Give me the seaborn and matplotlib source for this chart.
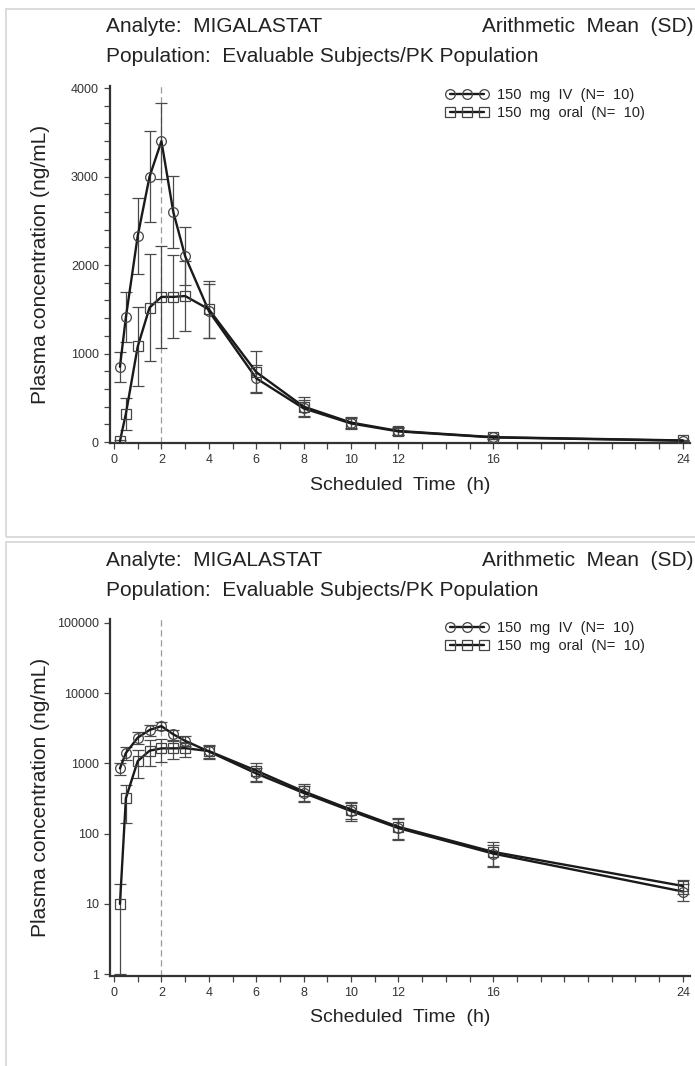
import numpy as np
import pandas as pd
import matplotlib
matplotlib.use('Agg')
import matplotlib.pyplot as plt
from matplotlib.patches import Rectangle
from matplotlib.ticker import MultipleLocator, NullLocator
import seaborn as sns

# scheduled sampling times (h)
times = [0.25, 0.5, 1, 1.5, 2, 2.5, 3, 4, 6, 8, 10, 12, 16, 24]
# arithmetic mean / SD (ng/mL)
iv_mean = [850, 1410, 2330, 3000, 3400, 2600, 2100, 1480, 720, 380, 210, 120, 52, 15]
iv_sd = [170, 280, 430, 510, 430, 410, 330, 310, 150, 100, 60, 40, 18, 4]
oral_mean = [10, 320, 1080, 1520, 1640, 1640, 1650, 1500, 790, 400, 220, 125, 55, 18]
oral_sd = [9, 180, 450, 610, 580, 470, 400, 320, 240, 110, 60, 40, 20, 4]

groups = ['IV', 'oral']
legend_labels = ['150  mg  IV  (N=  10)', '150  mg  oral  (N=  10)']
xtick_labeled = [0, 2, 4, 6, 8, 10, 12, 16, 24]
lin_yticks = [0, 1000, 2000, 3000, 4000]
log_yticks = [1, 10, 100, 1000, 10000, 100000]

df = pd.DataFrame({
    'time': times * 2,
    'conc': iv_mean + oral_mean,
    'group': ['IV'] * len(times) + ['oral'] * len(times),
})

sns.set_theme(style='ticks')
plt.rcParams['font.family'] = ['Liberation Sans', 'DejaVu Sans']

W, H = 695, 1066
fig = plt.figure(figsize=(W / 100, H / 100), dpi=100)
TXT = '#222222'


def px_axes(left, top, right, bottom):
    return fig.add_axes([left / W, 1 - bottom / H, (right - left) / W, (bottom - top) / H])


def fy(y):
    return 1 - y / H


def px_rect(left, top, right, bottom):
    fig.add_artist(Rectangle((left / W, fy(bottom)), (right - left) / W, (bottom - top) / H,
                             transform=fig.transFigure, fill=False, ec='#d6d6d6', lw=1.2))


def draw_panel(off, log):
    fig.text(106 / W, fy(27 + off), 'Analyte:  MIGALASTAT', fontsize=15, color=TXT, va='center')
    fig.text(694 / W, fy(27 + off), 'Arithmetic  Mean  (SD)', fontsize=15, color=TXT,
             va='center', ha='right')
    fig.text(106 / W, fy(57 + off), 'Population:  Evaluable Subjects/PK Population',
             fontsize=15, color=TXT, va='center')

    ax = px_axes(110, 86 + off, 690, 443 + off)
    ax.axvline(2, color='#9a9a9a', lw=0.9, ls=(0, (5, 3)), zorder=1)
    for m, s in [(iv_mean, iv_sd), (oral_mean, oral_sd)]:
        ax.errorbar(times, m, yerr=s, fmt='none', ecolor='#4a4a4a', elinewidth=0.9,
                    capsize=4, capthick=0.9, zorder=2)
    n0 = len(ax.lines)
    sns.lineplot(data=df, x='time', y='conc', style='group',
                 markers={'IV': 'o', 'oral': 's'}, dashes=False, color='#1a1a1a',
                 linewidth=1.7, markersize=7, markerfacecolor='none',
                 markeredgecolor='#444444', markeredgewidth=0.9,
                 estimator=None, legend=False, ax=ax, zorder=3)
    handles = ax.lines[n0:n0 + 2]

    ax.set_xlim(-0.17, 24.3)
    ax.set_xticks(range(25))
    ax.set_xticklabels([str(t) if t in xtick_labeled else '' for t in range(25)])
    if log:
        ax.set_yscale('log')
        ax.set_ylim(0.94, 1.14e5)
        ax.set_yticks(log_yticks)
        ax.set_yticklabels([str(v) for v in log_yticks])
        ax.yaxis.set_minor_locator(NullLocator())
    else:
        ax.set_ylim(-11, 4023)
        ax.set_yticks(lin_yticks)
        ax.set_yticklabels([str(v) for v in lin_yticks])
        ax.yaxis.set_minor_locator(MultipleLocator(200))
    ax.set_xlabel('')
    ax.set_ylabel('')
    ax.tick_params(axis='both', which='both', direction='out', length=4, width=0.9,
                   color='#444444', labelsize=9, labelcolor='#333333', pad=4)
    for side in ['top', 'right']:
        ax.spines[side].set_visible(False)
    for side in ['left', 'bottom']:
        ax.spines[side].set_linewidth(1.6)
        ax.spines[side].set_color('#333333')

    fig.text(41 / W, fy(264 + off), 'Plasma concentration (ng/mL)', fontsize=15,
             color=TXT, rotation=90, ha='center', va='center')
    fig.text(400 / W, fy(485 + off), 'Scheduled  Time  (h)', fontsize=14, color=TXT,
             ha='center', va='center')

    leg = ax.legend(handles=handles, labels=legend_labels, numpoints=3, frameon=False,
                    loc='upper left', bbox_to_anchor=(446 / W, fy(88 + off)),
                    bbox_transform=fig.transFigure, fontsize=10.5, handlelength=2.9,
                    handletextpad=0.6, labelspacing=0.3, borderpad=0, borderaxespad=0)
    for t in leg.get_texts():
        t.set_color(TXT)
    return ax


# panel frames
px_rect(6, 9, 700, 537)
px_rect(6, 542, 700, 1075)

draw_panel(0, False)
draw_panel(533, True)

fig.savefig('out.png', dpi=100)
